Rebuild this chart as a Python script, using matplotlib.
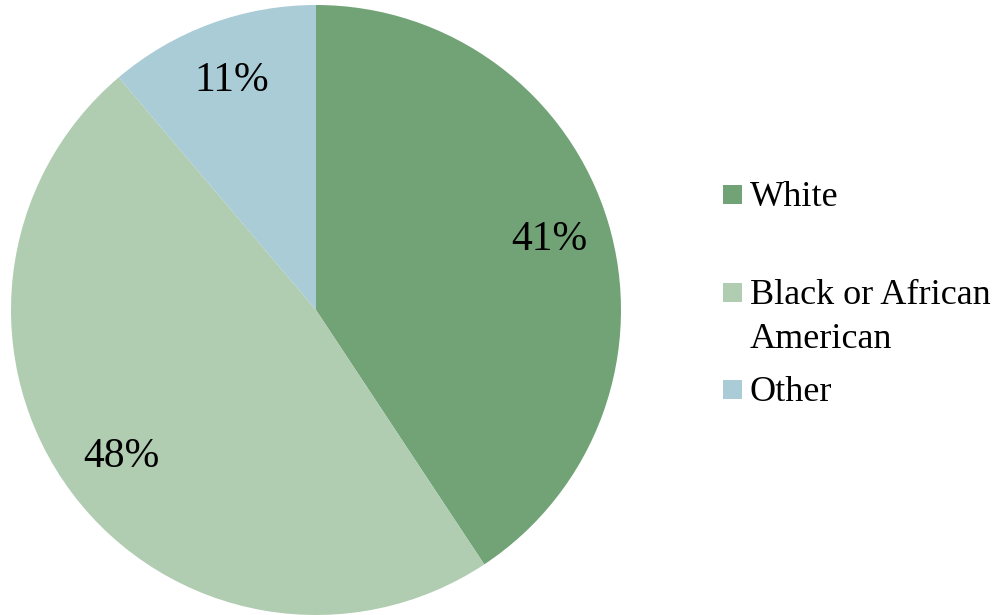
import matplotlib
matplotlib.use("Agg")
import matplotlib.pyplot as plt
from matplotlib.patches import Rectangle

categories = ["White", "Black or African\nAmerican", "Other"]
shares = [40.7, 48.1, 11.2]
colors = ["#71A376", "#B0CCB1", "#A9CCD6"]

plt.rcParams["font.family"] = ["Liberation Serif", "DejaVu Serif"]

fig = plt.figure(figsize=(10.03, 6.15), dpi=100)
ax = fig.add_axes([11 / 1003, 0.0, 610 / 1003, 610 / 615])

wedges, texts, autotexts = ax.pie(
    shares,
    colors=colors,
    startangle=90,
    counterclock=False,
    autopct="%.0f%%",
    pctdistance=0.8,
    wedgeprops={"linewidth": 0},
    textprops={"fontsize": 30, "color": "black"},
)
ax.set_xlim(-1, 1)
ax.set_ylim(-1, 1)
ax.set_aspect("equal")

# legend drawn by hand so the squares keep an even step like the original
leg_y = [411 / 615, 313 / 615, 216 / 615]  # square bottoms
for name, col, y in zip(categories, colors, leg_y):
    fig.patches.append(Rectangle((723 / 1003, y), 19 / 1003, 19 / 615,
                                 transform=fig.transFigure, facecolor=col,
                                 edgecolor="none"))
    fig.text(750 / 1003, y + 23 / 615, name, fontsize=26,
             va="top", ha="left", linespacing=1.42)

fig.savefig("out.png", dpi=100)
